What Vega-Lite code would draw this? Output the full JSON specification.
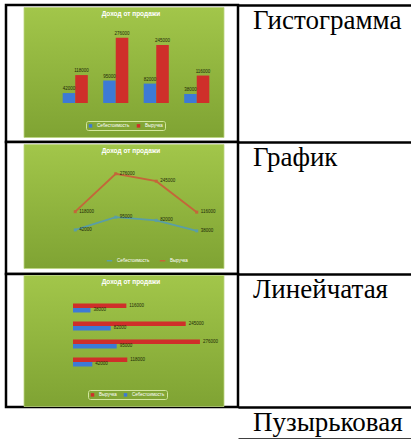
{
  "$schema": "https://vega.github.io/schema/vega-lite/v6.json",
  "padding": {"left": 4, "top": 3, "right": 0, "bottom": 0},
  "datasets": {
    "sales": [
      {"cat": "Молочные", "series": "Себестоимость", "value": 42000},
      {"cat": "Молочные", "series": "Выручка", "value": 118000},
      {"cat": "Хлебобулочные", "series": "Себестоимость", "value": 95000},
      {"cat": "Хлебобулочные", "series": "Выручка", "value": 276000},
      {"cat": "Кондитерские", "series": "Себестоимость", "value": 82000},
      {"cat": "Кондитерские", "series": "Выручка", "value": 245000},
      {"cat": "Мясные", "series": "Себестоимость", "value": 38000},
      {"cat": "Мясные", "series": "Выручка", "value": 116000}
    ]
  },
  "columns": 2,
  "spacing": 0,
  "bounds": "flush",
  "resolve": {"scale": {"color": "independent"}, "legend": {"color": "independent"}},
  "concat": [
    {
      "width": 232,
      "height": 137,
      "title": {"text": "Доход от продажи", "frame": "group", "offset": -12.5, "dx": 9},
      "resolve": {"scale": {"x": "independent", "y": "independent"}},
      "layer": [
        {
          "data": {"values": [{"part": "chart area"}]},
          "mark": {"type": "rect", "fill": {"gradient": "linear", "x1": 0, "y1": 0, "x2": 0, "y2": 1, "stops": [{"offset": 0, "color": "#a2c64a"}, {"offset": 1, "color": "#7fa333"}]}, "stroke": "#bcd680", "strokeWidth": 0.8},
          "encoding": {
            "x": {"datum": 0, "type": "quantitative", "scale": {"domain": [0, 1], "range": [18, 218]}, "axis": null},
            "x2": {"datum": 1},
            "y": {"datum": 0, "type": "quantitative", "scale": {"domain": [0, 1], "range": [2.5, 132.5]}, "axis": null},
            "y2": {"datum": 1}
          }
        },
        {
          "data": {"name": "sales"},
          "encoding": {
            "x": {"field": "cat", "type": "nominal", "sort": ["Молочные", "Хлебобулочные", "Кондитерские", "Мясные"], "scale": {"range": [49, 211], "paddingInner": 0.38, "paddingOuter": 0.19}, "axis": {"offset": -39, "labelAngle": 0, "labelPadding": 4}},
            "xOffset": {"field": "series", "type": "nominal", "sort": ["Себестоимость", "Выручка"]},
            "y": {"field": "value", "type": "quantitative", "scale": {"domain": [0, 300000], "range": [98, 27]}, "axis": {"offset": -50, "values": [0, 50000, 100000, 150000, 200000, 250000, 300000], "grid": true, "gridColor": {"condition": {"test": "datum.value === 300000", "value": "#e6f09c"}, "value": "transparent"}, "gridWidth": 1.5, "labelPadding": 3}}
          },
          "layer": [
            {
              "mark": {"type": "bar"},
              "encoding": {
                "color": {"field": "series", "type": "nominal", "scale": {"domain": ["Себестоимость", "Выручка"], "range": ["#3d7ad6", "#cf2f2a"]}, "legend": {"orient": "none", "legendX": 80, "legendY": 116, "direction": "horizontal", "strokeColor": "#d2e69e", "cornerRadius": 2, "padding": 2}}
              }
            },
            {
              "mark": {"type": "text", "baseline": "bottom", "dy": -2, "fontSize": 4.5, "color": "#1e2a08"},
              "encoding": {"text": {"field": "value", "format": "d"}}
            }
          ]
        }
      ]
    },
    {
      "width": 173,
      "height": 137,
      "view": {"stroke": null, "fill": null},
      "data": {"values": [{"label": "Гистограмма"}]},
      "mark": {"type": "text", "font": "Liberation Serif", "fontSize": 27, "align": "left", "baseline": "alphabetic", "dx": 15, "dy": 24, "color": "black"},
      "encoding": {
        "text": {"field": "label"},
        "x": {"datum": 0, "type": "quantitative", "scale": {"domain": [0, 1]}, "axis": {"orient": "top", "labels": false, "grid": false, "domainColor": "black", "domainWidth": 2.5}},
        "y": {"datum": 1, "type": "quantitative", "scale": {"domain": [0, 1]}, "axis": null}
      }
    },
    {
      "width": 232,
      "height": 132,
      "title": {"text": "Доход от продажи", "frame": "group", "offset": -12, "dx": 9},
      "resolve": {"scale": {"x": "independent", "y": "independent"}},
      "layer": [
        {
          "data": {"values": [{"part": "chart area"}]},
          "mark": {"type": "rect", "fill": {"gradient": "linear", "x1": 0, "y1": 0, "x2": 0, "y2": 1, "stops": [{"offset": 0, "color": "#a2c64a"}, {"offset": 1, "color": "#7fa333"}]}, "stroke": "#bcd680", "strokeWidth": 0.8},
          "encoding": {
            "x": {"datum": 0, "type": "quantitative", "scale": {"domain": [0, 1], "range": [18, 218]}, "axis": null},
            "x2": {"datum": 1},
            "y": {"datum": 0, "type": "quantitative", "scale": {"domain": [0, 1], "range": [2.5, 126.5]}, "axis": null},
            "y2": {"datum": 1}
          }
        },
        {
          "data": {"name": "sales"},
          "encoding": {
            "x": {"field": "cat", "type": "nominal", "sort": ["Молочные", "Хлебобулочные", "Кондитерские", "Мясные"], "bandPosition": 0.5, "scale": {"type": "band", "range": [49, 211], "paddingInner": 0.38, "paddingOuter": 0.19}, "axis": {"offset": -34, "labelAngle": 0, "labelPadding": 4}},
            "y": {"field": "value", "type": "quantitative", "scale": {"domain": [0, 300000], "range": [98, 26]}, "axis": {"offset": -50, "values": [0, 50000, 100000, 150000, 200000, 250000, 300000], "grid": true, "gridColor": {"condition": {"test": "datum.value === 300000", "value": "#e6f09c"}, "value": "transparent"}, "gridWidth": 1.5, "labelPadding": 3}},
            "color": {"field": "series", "type": "nominal", "scale": {"domain": ["Себестоимость", "Выручка"], "range": ["#5a9ea6", "#c4663a"]}, "legend": {"orient": "none", "legendX": 100, "legendY": 115, "direction": "horizontal", "symbolType": "stroke", "symbolStrokeWidth": 1.5, "symbolSize": 30}}
          },
          "layer": [
            {"mark": {"type": "line", "strokeWidth": 1.8, "point": {"shape": "square", "size": 9, "filled": true}}},
            {
              "mark": {"type": "text", "align": "left", "dx": 4, "fontSize": 4.5, "color": "#1e2a08"},
              "encoding": {"text": {"field": "value", "format": "d"}, "color": {"value": "#1e2a08"}}
            }
          ]
        }
      ]
    },
    {
      "width": 173,
      "height": 132,
      "view": {"stroke": null, "fill": null},
      "data": {"values": [{"label": "График"}]},
      "mark": {"type": "text", "font": "Liberation Serif", "fontSize": 27, "align": "left", "baseline": "alphabetic", "dx": 15, "dy": 24, "color": "black"},
      "encoding": {
        "text": {"field": "label"},
        "x": {"datum": 0, "type": "quantitative", "scale": {"domain": [0, 1]}, "axis": {"orient": "top", "labels": false, "grid": false, "domainColor": "black", "domainWidth": 2.5}},
        "y": {"datum": 1, "type": "quantitative", "scale": {"domain": [0, 1]}, "axis": null}
      }
    },
    {
      "width": 232,
      "height": 133,
      "title": {"text": "Доход от продажи", "frame": "group", "offset": -11.5, "dx": 9},
      "resolve": {"scale": {"x": "independent", "y": "independent"}},
      "layer": [
        {
          "data": {"values": [{"part": "chart area"}]},
          "mark": {"type": "rect", "fill": {"gradient": "linear", "x1": 0, "y1": 0, "x2": 0, "y2": 1, "stops": [{"offset": 0, "color": "#a2c64a"}, {"offset": 1, "color": "#7fa333"}]}, "stroke": "#bcd680", "strokeWidth": 0.8},
          "encoding": {
            "x": {"datum": 0, "type": "quantitative", "scale": {"domain": [0, 1], "range": [18, 218]}, "axis": null},
            "x2": {"datum": 1},
            "y": {"datum": 0, "type": "quantitative", "scale": {"domain": [0, 1], "range": [1.5, 132.5]}, "axis": null},
            "y2": {"datum": 1}
          }
        },
        {
          "data": {"name": "sales"},
          "resolve": {"axis": {"x": "independent"}},
          "encoding": {
            "y": {"field": "cat", "type": "nominal", "sort": ["Мясные", "Кондитерские", "Хлебобулочные", "Молочные"], "scale": {"range": [25, 97], "paddingInner": 0.5, "paddingOuter": 0.25}, "axis": {"offset": -67, "labelPadding": 3}},
            "yOffset": {"field": "series", "type": "nominal", "sort": ["Выручка", "Себестоимость"]}
          },
          "layer": [
            {
              "mark": {"type": "bar"},
              "encoding": {
                "x": {"field": "value", "type": "quantitative", "scale": {"domain": [0, 300000], "range": [67, 205]}, "axis": {"offset": -36.5, "values": [0, 50000, 100000, 150000, 200000, 250000, 300000], "labelPadding": 4}},
                "color": {"field": "series", "type": "nominal", "scale": {"domain": ["Выручка", "Себестоимость"], "range": ["#cf2f2a", "#3d7ad6"]}, "legend": {"orient": "none", "legendX": 82, "legendY": 116, "direction": "horizontal", "strokeColor": "#d2e69e", "cornerRadius": 2, "padding": 2}}
              }
            },
            {
              "mark": {"type": "text", "align": "left", "dx": 3, "fontSize": 4.5, "color": "#1e2a08"},
              "encoding": {
                "x": {"field": "value", "type": "quantitative", "axis": {"orient": "top", "offset": -26.5, "labels": false, "domainColor": "#e6f09c", "domainWidth": 1.5}},
                "text": {"field": "value", "format": "d"}
              }
            }
          ]
        }
      ]
    },
    {
      "width": 173,
      "height": 133,
      "view": {"stroke": null, "fill": null},
      "data": {"values": [{"label": "Линейчатая"}]},
      "mark": {"type": "text", "font": "Liberation Serif", "fontSize": 27, "align": "left", "baseline": "alphabetic", "dx": 15, "dy": 24, "color": "black"},
      "encoding": {
        "text": {"field": "label"},
        "x": {"datum": 0, "type": "quantitative", "scale": {"domain": [0, 1]}, "axis": {"orient": "top", "labels": false, "grid": false, "domainColor": "black", "domainWidth": 2.5}},
        "y": {"datum": 1, "type": "quantitative", "scale": {"domain": [0, 1]}, "axis": null}
      }
    },
    {
      "width": 232,
      "height": 32,
      "data": {"values": [{"label": ""}]},
      "mark": {"type": "text"},
      "encoding": {"text": {"field": "label"}}
    },
    {
      "width": 173,
      "height": 32,
      "view": {"stroke": null, "fill": null},
      "data": {"values": [{"label": "Пузырьковая"}]},
      "resolve": {"axis": {"x": "independent"}},
      "encoding": {
        "y": {"datum": 1, "type": "quantitative", "scale": {"domain": [0, 1]}, "axis": null}
      },
      "layer": [
        {
          "mark": {"type": "text", "font": "Liberation Serif", "fontSize": 27, "align": "left", "baseline": "alphabetic", "dx": 15, "dy": 24, "color": "black"},
          "encoding": {
            "text": {"field": "label"},
            "x": {"datum": 0, "type": "quantitative", "scale": {"domain": [0, 1]}, "axis": {"orient": "top", "labels": false, "grid": false, "domainColor": "black", "domainWidth": 2.5}}
          }
        },
        {
          "mark": {"type": "text", "opacity": 0},
          "encoding": {
            "text": {"field": "label"},
            "x": {"datum": 0, "type": "quantitative", "axis": {"orient": "bottom", "labels": false, "grid": false, "domainColor": "black", "domainWidth": 2.5}}
          }
        }
      ]
    }
  ],
  "config": {
    "font": "Liberation Sans",
    "view": {"stroke": "black", "strokeWidth": 2.5, "fill": "white"},
    "title": {"color": "white", "fontSize": 6.5, "fontWeight": "bold", "font": "Liberation Sans", "anchor": "middle"},
    "axis": {"title": null, "ticks": false, "grid": false, "labelFontSize": 5, "labelColor": "#f4f8e6", "domainColor": "#4d6b1e", "domainWidth": 1, "labelFont": "Liberation Sans"},
    "legend": {"title": null, "labelFontSize": 4.5, "labelColor": "white", "symbolSize": 12, "symbolType": "square", "columnPadding": 6, "labelFont": "Liberation Sans"}
  }
}
